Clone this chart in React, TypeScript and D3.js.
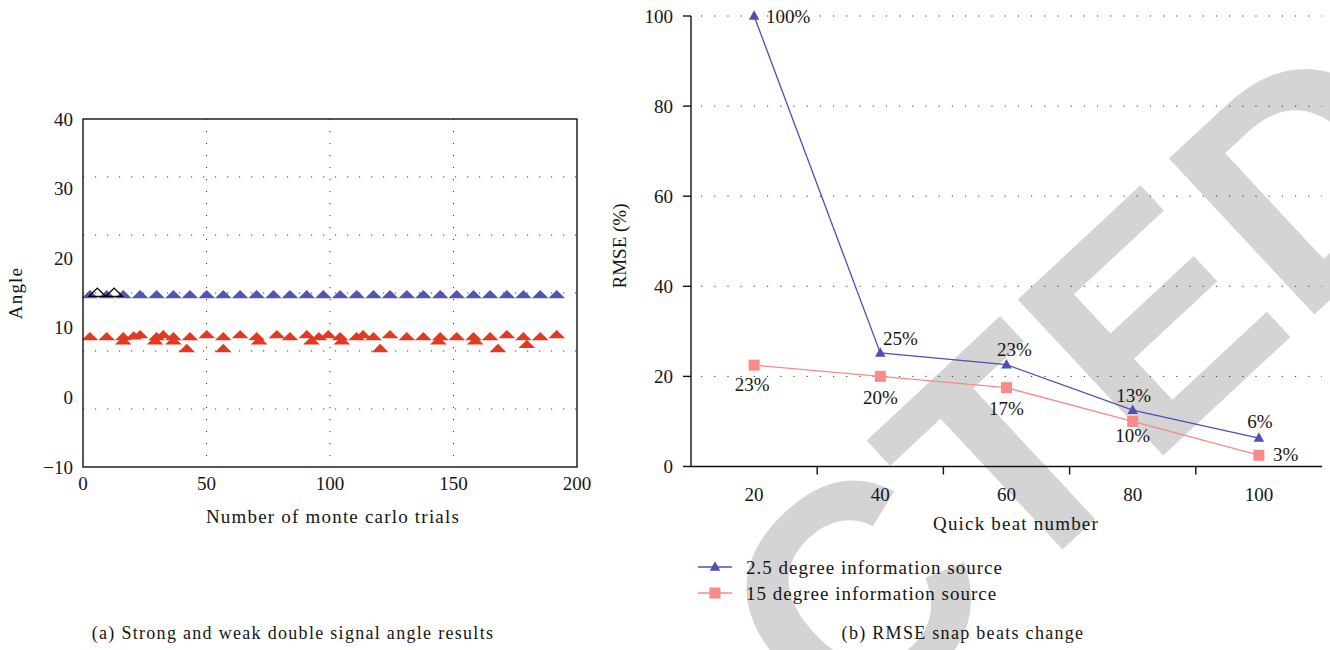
import React from "react";
import * as d3 from "d3";

// ---------- Left chart data ----------
const trialTicks = [0, 50, 100, 150, 200];
const angleTicks = [-10, 0, 10, 20, 30, 40];
const angleGrid = [31.67, 23.33, 15, 6.67, -1.67];
const trialGrid = [50, 100, 150];

const strongX = [2.8, 9.6, 16.3, 23.1, 29.8, 36.6, 43.3, 50.1, 56.8, 63.6, 70.3, 77.1, 83.8, 90.6, 97.3, 104.1, 110.8, 117.6, 124.3, 131.1, 137.8, 144.6, 151.3, 158.1, 164.8, 171.6, 178.3, 185.1, 191.8];
const strongY = [14.85, 14.85, 14.85, 14.85, 14.85, 14.85, 14.85, 14.85, 14.85, 14.85, 14.85, 14.85, 14.85, 14.85, 14.85, 14.85, 14.85, 14.85, 14.85, 14.85, 14.85, 14.85, 14.85, 14.85, 14.85, 14.85, 14.85, 14.85, 14.85];
const trueX = [5.8, 12.6];
const trueY = [15.1, 15.1];

const weakX = [2.8, 9.6, 16.3, 16.3, 20.5, 23.1, 29.8, 29.2, 32.5, 36.6, 36.6, 42, 43.3, 50.1, 56.8, 56.8, 63.6, 70.3, 71.3, 78.5, 83.8, 90.6, 92.5, 95.5, 99.3, 104.1, 104.8, 110.8, 113.4, 117.6, 120.3, 124.3, 131.1, 137.8, 143.9, 144.6, 151.3, 158.1, 158.8, 164.8, 168, 171.6, 178.3, 179.7, 185.1, 191.8];
const weakY = [8.8, 8.8, 8.8, 8.2, 8.9, 9.1, 8.8, 8.2, 9.1, 8.8, 8.2, 7.1, 8.8, 9.1, 8.8, 7.1, 9.1, 8.8, 8.2, 9.1, 8.8, 9.1, 8.2, 8.8, 9.1, 8.8, 8.2, 8.8, 9.1, 8.8, 7.1, 9.1, 8.8, 8.8, 8.2, 8.8, 8.8, 8.8, 8.2, 8.8, 7.1, 9.1, 8.8, 7.7, 8.8, 9.1];

// ---------- Right chart data ----------
const beatCategories = ["20", "40", "60", "80", "100"];
const rmseTicks = [0, 20, 40, 60, 80, 100];
const rmseGrid = [20, 40, 60, 80, 100];
const rmse25 = [100, 25.2, 22.6, 12.5, 6.3];
const rmse15 = [22.5, 20, 17.5, 10, 2.5];
const labels25 = ["100%", "25%", "23%", "13%", "6%"];
const labels15 = ["23%", "20%", "17%", "10%", "3%"];
const legendNames = ["2.5 degree information source", "15 degree information source"];

const FONT = "'Liberation Serif', 'Times New Roman', serif";
const BLUE = "#5356b0";
const RED = "#e03a22";
const LBLUE = "#4f4fb5";
const LRED = "#f88a8a";
const TXT = "#151515";

function tri(w: number, h: number) {
  return `M0,${-h / 2}L${w / 2},${h / 2}L${-w / 2},${h / 2}Z`;
}

export default function App() {
  // left scales
  const xL = d3.scaleLinear().domain([0, 200]).range([83, 577]);
  const yL = d3.scaleLinear().domain([-10, 40]).range([467, 119]);
  // right scales
  const xR = d3.scaleBand<string>().domain(beatCategories).range([691, 1322]);
  const yR = d3.scaleLinear().domain([0, 100]).range([466.5, 16]);
  const cx = (c: string) => (xR(c) as number) + xR.bandwidth() / 2;

  const line = d3
    .line<number>()
    .x((_, i) => cx(beatCategories[i]))
    .y((d) => yR(d));

  const boundaries = beatCategories.slice(1).map((c) => xR(c) as number);

  const triPath = tri(16.7, 8.3);
  const smallTri = tri(10.5, 9.5);

  const off25: [number, number, string][] = [
    [12, 0, "start"],
    [20, -14, "middle"],
    [8, -15, "middle"],
    [1, -15, "middle"],
    [1, -17, "middle"],
  ];
  const off15: [number, number, string][] = [
    [-2, 19, "middle"],
    [0, 21, "middle"],
    [0, 21, "middle"],
    [0, 14, "middle"],
    [14, -1, "start"],
  ];

  const wordStyle = { fontFamily: FONT, fontSize: 19, letterSpacing: 1.2 } as React.CSSProperties;
  const legStyle = { fontFamily: FONT, fontSize: 19, letterSpacing: 1.0 } as React.CSSProperties;
  const numStyle = { fontFamily: FONT, fontSize: 19 } as React.CSSProperties;
  const capStyle = { fontFamily: FONT, fontSize: 18, letterSpacing: 1.3 } as React.CSSProperties;

  return (
    <svg width={1330} height={650} style={{ display: "block", position: "absolute", left: 0, top: 0, fontFamily: FONT }}>
      <rect x={0} y={0} width={1330} height={650} fill="#fff" />

      {/* watermark */}
      <text
        x={1463}
        y={176}
        transform="rotate(-43 1463 176)"
        textAnchor="end"
        style={{ fontFamily: "'Liberation Sans', Arial, sans-serif", fontWeight: "bold", fontSize: 310 }}
        fill="#d4d4d4"
      >
        RETRACTED
      </text>

      {/* ---------- LEFT CHART ---------- */}
      <g>
        {angleGrid.map((v) => (
          <line key={"gy" + v} x1={xL(0)} x2={xL(200)} y1={yL(v)} y2={yL(v)} stroke="#333" strokeWidth={1} strokeDasharray="1.2,10.8" />
        ))}
        {trialGrid.map((v) => (
          <line key={"gx" + v} x1={xL(v)} x2={xL(v)} y1={yL(40)} y2={yL(-10)} stroke="#333" strokeWidth={1} strokeDasharray="1.2,10.8" />
        ))}
        {strongX.map((x, i) => (
          <path key={"s" + i} d={triPath} transform={`translate(${xL(x)},${yL(strongY[i])})`} fill={BLUE} />
        ))}
        {trueX.map((x, i) => (
          <path key={"t" + i} d={triPath} transform={`translate(${xL(x)},${yL(trueY[i])})`} fill="none" stroke="#000" strokeWidth={1.3} />
        ))}
        {weakX.map((x, i) => (
          <path key={"w" + i} d={triPath} transform={`translate(${xL(x)},${yL(weakY[i])})`} fill={RED} />
        ))}
        <rect x={xL(0)} y={yL(40)} width={xL(200) - xL(0)} height={yL(-10) - yL(40)} fill="none" stroke="#111" strokeWidth={1.4} />
        {angleTicks.map((v) => (
          <text key={"yt" + v} x={73} y={yL(v)} textAnchor="end" dominantBaseline="central" style={numStyle} fill={TXT}>
            {v < 0 ? "\u2212" + Math.abs(v) : v}
          </text>
        ))}
        {trialTicks.map((v) => (
          <text key={"xt" + v} x={xL(v)} y={483} textAnchor="middle" dominantBaseline="central" style={numStyle} fill={TXT}>
            {v}
          </text>
        ))}
        <text x={15} y={293} transform="rotate(-90 15 293)" textAnchor="middle" dominantBaseline="central" style={wordStyle} fill={TXT}>
          Angle
        </text>
        <text x={333} y={516} textAnchor="middle" dominantBaseline="central" style={wordStyle} fill={TXT}>
          Number of monte carlo trials
        </text>
        <text x={293} y={633} textAnchor="middle" dominantBaseline="central" style={capStyle} fill={TXT}>
          (a) Strong and weak double signal angle results
        </text>
      </g>

      {/* ---------- RIGHT CHART ---------- */}
      <g>
        {rmseGrid.map((v) => (
          <line key={"rg" + v} x1={701} x2={1322} y1={yR(v)} y2={yR(v)} stroke="#333" strokeWidth={1} strokeDasharray="1.2,12" />
        ))}
        <line x1={691} x2={691} y1={yR(100)} y2={yR(0)} stroke="#111" strokeWidth={1.4} />
        <line x1={691} x2={1322} y1={yR(0)} y2={yR(0)} stroke="#111" strokeWidth={1.4} />
        {rmseTicks.map((v) => (
          <g key={"rt" + v}>
            <line x1={683} x2={691} y1={yR(v)} y2={yR(v)} stroke="#111" strokeWidth={1.4} />
            <text x={673} y={yR(v)} textAnchor="end" dominantBaseline="central" style={numStyle} fill={TXT}>
              {v}
            </text>
          </g>
        ))}
        {boundaries.map((b, i) => (
          <line key={"xb" + i} x1={b} x2={b} y1={yR(0)} y2={yR(0) + 8} stroke="#111" strokeWidth={1.4} />
        ))}
        {beatCategories.map((c) => (
          <text key={"xc" + c} x={cx(c)} y={494} textAnchor="middle" dominantBaseline="central" style={numStyle} fill={TXT}>
            {c}
          </text>
        ))}
        <text x={619} y={246} transform="rotate(-90 619 246)" textAnchor="middle" dominantBaseline="central" style={numStyle} fill={TXT}>
          RMSE (%)
        </text>
        <text x={1016} y={523} textAnchor="middle" dominantBaseline="central" style={wordStyle} fill={TXT}>
          Quick beat number
        </text>

        <path d={line(rmse15) as string} fill="none" stroke={LRED} strokeWidth={1.3} />
        <path d={line(rmse25) as string} fill="none" stroke={LBLUE} strokeWidth={1.3} />
        {rmse15.map((v, i) => (
          <rect key={"sq" + i} x={cx(beatCategories[i]) - 5.5} y={yR(v) - 5.5} width={11} height={11} fill={LRED} />
        ))}
        {rmse25.map((v, i) => (
          <path key={"bt" + i} d={smallTri} transform={`translate(${cx(beatCategories[i])},${yR(v) - 1})`} fill={LBLUE} />
        ))}
        {rmse25.map((v, i) => (
          <text key={"l25" + i} x={cx(beatCategories[i]) + off25[i][0]} y={yR(v) + off25[i][1]} textAnchor={off25[i][2] as any} dominantBaseline="central" style={numStyle} fill={TXT}>
            {labels25[i]}
          </text>
        ))}
        {rmse15.map((v, i) => (
          <text key={"l15" + i} x={cx(beatCategories[i]) + off15[i][0]} y={yR(v) + off15[i][1]} textAnchor={off15[i][2] as any} dominantBaseline="central" style={numStyle} fill={TXT}>
            {labels15[i]}
          </text>
        ))}

        {/* legend */}
        <line x1={698} x2={732} y1={567} y2={567} stroke={LBLUE} strokeWidth={1.3} />
        <path d={smallTri} transform="translate(715,566)" fill={LBLUE} />
        <text x={746} y={567} dominantBaseline="central" style={legStyle} fill={TXT}>
          {legendNames[0]}
        </text>
        <line x1={698} x2={732} y1={593} y2={593} stroke={LRED} strokeWidth={1.3} />
        <rect x={709.5} y={587.5} width={11} height={11} fill={LRED} />
        <text x={746} y={593} dominantBaseline="central" style={legStyle} fill={TXT}>
          {legendNames[1]}
        </text>

        <text x={963} y={633} textAnchor="middle" dominantBaseline="central" style={capStyle} fill={TXT}>
          (b) RMSE snap beats change
        </text>
      </g>
    </svg>
  );
}
